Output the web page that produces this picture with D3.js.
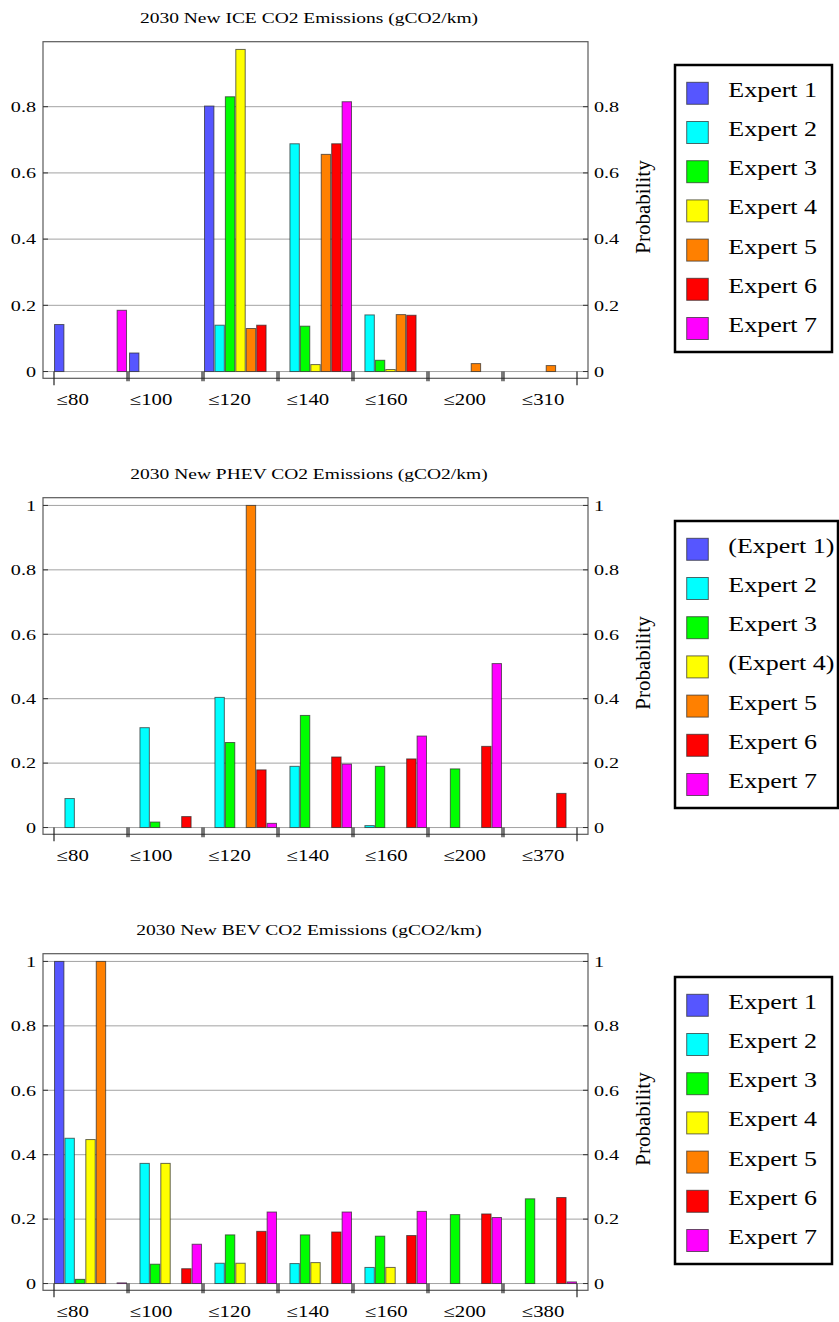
<!DOCTYPE html>
<html>
<head>
<meta charset="utf-8">
<script src="https://cdn.jsdelivr.net/npm/d3@7"></script>
<style>
  body { margin: 0; background: #fff; }
  svg { display: block; }
  text { font-family: "Liberation Serif", "Times New Roman", serif; fill: #000; }
</style>
</head>
<body>
<svg id="chart" width="839" height="1322"></svg>
<script>
// Expert names and bar colours
const expertNames = ["Expert 1", "Expert 2", "Expert 3", "Expert 4", "Expert 5", "Expert 6", "Expert 7"];
const phevNames = ["(Expert 1)", "Expert 2", "Expert 3", "(Expert 4)", "Expert 5", "Expert 6", "Expert 7"];
const expertColors = ["#5656ff", "#00ffff", "#00ff00", "#ffff00", "#ff8000", "#ff0000", "#ff00ff"];

// ICE: probability per emission bin, one row per expert
const iceTitle = "2030 New ICE CO2 Emissions (gCO2/km)";
const iceBins = ["≤80", "≤100", "≤120", "≤140", "≤160", "≤200", "≤310"];
const iceValues = [
  [0.142, 0.056, 0.802, 0,     0,     0,     0],
  [0,     0,     0.140, 0.688, 0.171, 0,     0],
  [0,     0,     0.830, 0.137, 0.034, 0,     0],
  [0,     0,     0.973, 0.021, 0.006, 0,     0],
  [0,     0,     0.130, 0.656, 0.172, 0.024, 0.018],
  [0,     0,     0.140, 0.688, 0.170, 0,     0],
  [0.185, 0,     0,     0.815, 0,     0,     0]
];

// PHEV
const phevTitle = "2030 New PHEV CO2 Emissions (gCO2/km)";
const phevBins = ["≤80", "≤100", "≤120", "≤140", "≤160", "≤200", "≤370"];
const phevValues = [
  [0,     0,     0,     0,     0,     0,     0],
  [0.090, 0.310, 0.404, 0.190, 0.006, 0,     0],
  [0,     0.017, 0.264, 0.348, 0.190, 0.182, 0],
  [0,     0,     0,     0,     0,     0,     0],
  [0,     0,     1.000, 0,     0,     0,     0],
  [0,     0.034, 0.179, 0.219, 0.213, 0.252, 0.106],
  [0,     0,     0.013, 0.197, 0.284, 0.509, 0]
];

// BEV
const bevTitle = "2030 New BEV CO2 Emissions (gCO2/km)";
const bevBins = ["≤80", "≤100", "≤120", "≤140", "≤160", "≤200", "≤380"];
const bevValues = [
  [1.000, 0,     0,     0,     0,     0,     0],
  [0.451, 0.373, 0.063, 0.062, 0.050, 0,     0],
  [0.013, 0.060, 0.151, 0.151, 0.147, 0.214, 0.263],
  [0.447, 0.373, 0.063, 0.065, 0.050, 0,     0],
  [1.000, 0,     0,     0,     0,     0,     0],
  [0,     0.046, 0.162, 0.160, 0.149, 0.216, 0.267],
  [0.002, 0.122, 0.222, 0.222, 0.224, 0.205, 0.005]
];

const svg = d3.select("#chart");
svg.append("rect").attr("width", 839).attr("height", 1322).attr("fill", "#fff");

// Horizontal text is drawn widened, as in the original export
const SX = 1.3;
function putText(g, x, y, str, size, anchor) {
  return g.append("text")
    .attr("transform", `translate(${x},${y}) scale(${SX},1)`)
    .attr("font-size", size)
    .attr("text-anchor", anchor)
    .text(str);
}

const frame = { left: 43, right: 588, top: 41.7, bottom: 378.3 };

function drawPanel(offsetY, title, bins, values, names, legendWidth) {
  const g = svg.append("g").attr("transform", `translate(0,${offsetY})`);
  const maxV = d3.max(values.flat());

  const y = d3.scaleLinear()
    .domain([-0.021 * maxV, 1.024 * maxV])
    .range([frame.bottom, frame.top]);
  const x0 = d3.scaleBand().domain(bins).range([54, 577]).paddingInner(0.026);
  const x1 = d3.scaleBand().domain(d3.range(names.length))
    .range([0, x0.bandwidth()]).paddingInner(0.1).paddingOuter(0.05);
  const xLabel = d3.scalePoint().domain(bins).range([72.7, 543.1]);

  const ticks = y.ticks(5).filter(t => t >= 0 && t <= y.domain()[1]);
  const fmt = t => String(+t.toFixed(1));

  // grid lines
  g.append("g").selectAll("line").data(ticks).join("line")
    .attr("x1", frame.left).attr("x2", frame.right)
    .attr("y1", d => y(d)).attr("y2", d => y(d))
    .attr("stroke", "#a3a3a3").attr("stroke-width", 1);

  // bars (zero values leave a thin edge on the baseline)
  const cells = [];
  bins.forEach((b, bi) => values.forEach((row, ei) => cells.push({ bin: b, e: ei, v: row[bi] })));
  g.append("g").selectAll("rect").data(cells).join("rect")
    .attr("x", d => x0(d.bin) + x1(d.e))
    .attr("width", x1.bandwidth())
    .attr("y", d => y(d.v))
    .attr("height", d => y(0) - y(d.v))
    .attr("fill", d => expertColors[d.e])
    .attr("stroke", "#2a2a2a").attr("stroke-opacity", 0.7).attr("stroke-width", 1);

  // frame
  g.append("rect")
    .attr("x", frame.left).attr("y", frame.top)
    .attr("width", frame.right - frame.left).attr("height", frame.bottom - frame.top)
    .attr("fill", "none").attr("stroke", "#5a5a5a").attr("stroke-width", 1.2);

  // y tick marks and labels on both sides
  const ty = g.append("g");
  ticks.forEach(t => {
    ty.append("line").attr("x1", frame.left).attr("x2", frame.left + 5)
      .attr("y1", y(t)).attr("y2", y(t)).attr("stroke", "#333");
    ty.append("line").attr("x1", frame.right - 5).attr("x2", frame.right)
      .attr("y1", y(t)).attr("y2", y(t)).attr("stroke", "#333");
    putText(ty, 36, y(t) + 5.3, fmt(t), 15.5, "end");
    putText(ty, 594, y(t) + 5.3, fmt(t), 15.5, "start");
  });

  // group separators below the baseline
  const sep = g.append("g").attr("stroke", "#222").attr("stroke-width", 1.2);
  bins.forEach((b, i) => {
    const xs = x0(b), xe = x0(b) + x0.bandwidth();
    sep.append("line").attr("x1", xs).attr("x2", xs).attr("y1", y(0))
      .attr("y2", frame.bottom + (i === 0 ? 7 : 3));
    sep.append("line").attr("x1", xe).attr("x2", xe).attr("y1", y(0))
      .attr("y2", frame.bottom + (i === bins.length - 1 ? 7 : 3));
  });

  // category labels
  bins.forEach(b => putText(g, xLabel(b), 405, b, 16, "middle"));

  // title
  putText(g, 309, 23, title, 15, "middle");

  // right axis title
  g.append("text")
    .attr("transform", "translate(650,207) rotate(-90)")
    .attr("font-size", 21).attr("text-anchor", "middle").text("Probability");

  // legend
  const lg = g.append("g");
  lg.append("rect").attr("x", 675).attr("y", 65).attr("width", legendWidth).attr("height", 287)
    .attr("fill", "#fff").attr("stroke", "#000").attr("stroke-width", 2.5);
  names.forEach((n, i) => {
    lg.append("rect").attr("x", 686.7).attr("y", 82.3 + i * 39.2)
      .attr("width", 21.6).attr("height", 22)
      .attr("fill", expertColors[i]).attr("stroke", "#2a2a2a").attr("stroke-opacity", 0.7);
    putText(lg, 728.3, 96.7 + i * 39.2, n, 20, "start");
  });
}

drawPanel(0, iceTitle, iceBins, iceValues, expertNames, 157);
drawPanel(456, phevTitle, phevBins, phevValues, phevNames, 163);
drawPanel(912, bevTitle, bevBins, bevValues, expertNames, 157);
</script>
</body>
</html>
